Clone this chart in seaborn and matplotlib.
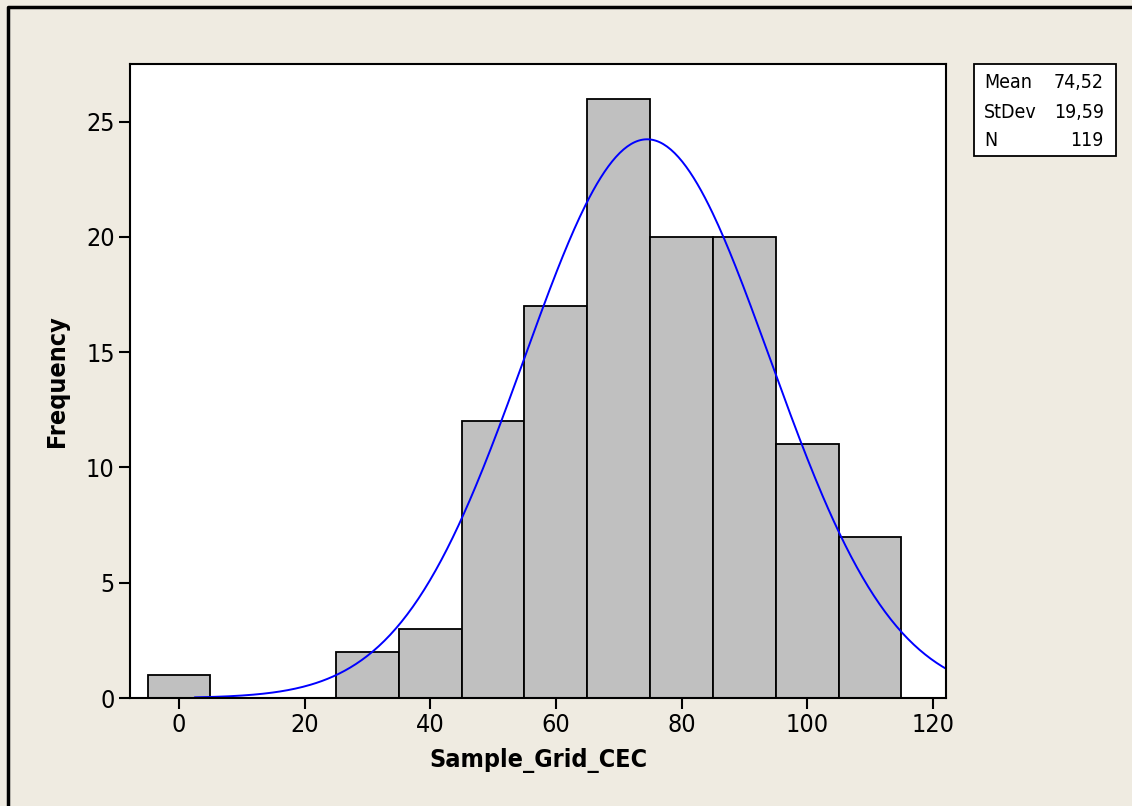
import numpy as np
import pandas as pd
import matplotlib
matplotlib.use("Agg")
import matplotlib.pyplot as plt
import seaborn as sns

# Data
bin_centers = [0, 10, 20, 30, 40, 50, 60, 70, 80, 90, 100, 110]
counts = [1, 0, 0, 2, 3, 12, 17, 26, 20, 20, 11, 7]
mean_val = 74.52
std_val = 19.59
n_val = 119
x_ticks = [0, 20, 40, 60, 80, 100, 120]
y_ticks = [0, 5, 10, 15, 20, 25]

bg = "#EFEBE1"
sns.set_theme(style="white")
plt.rcParams['font.family'] = ['DejaVu Sans']
plt.rcParams['font.stretch'] = 'condensed'

fig = plt.figure(figsize=(11.32, 8.06), dpi=100, facecolor=bg)
ax = fig.add_axes([130/1132, 1-698/806, (946-130)/1132, (698-64)/806])
ax.set_facecolor("white")

df = pd.DataFrame({"Sample_Grid_CEC": bin_centers, "count": counts})
edges = [float(e) for e in range(-5, 116, 10)]
sns.histplot(data=df, x="Sample_Grid_CEC", weights="count", bins=edges,
             color="#C0C0C0", edgecolor="black", linewidth=1.3, alpha=1, ax=ax)

xs = np.linspace(2.5, 123, 400)
pdf = n_val * 10 / (std_val * np.sqrt(2 * np.pi)) * np.exp(-0.5 * ((xs - mean_val) / std_val) ** 2)
sns.lineplot(x=xs, y=pdf, color="#0000FF", linewidth=1.4, ax=ax)

ax.set_xlim(-7.8, 122.1)
ax.set_ylim(0, 27.5)
ax.set_xticks(x_ticks)
ax.set_yticks(y_ticks)
ax.tick_params(axis="both", which="both", direction="out", length=8, width=1.5,
               color="black", labelsize=18, labelcolor="black", bottom=True, left=True, pad=3)
for s in ax.spines.values():
    s.set_color("black")
    s.set_linewidth(1.5)
ax.set_xlabel("Sample_Grid_CEC", fontsize=18, fontweight="bold", color="black", labelpad=8)
ax.set_ylabel("Frequency", fontsize=18, fontweight="bold", color="black", labelpad=12)

# Stats box
box_l, box_r, box_t, box_b = 974/1132, 1116/1132, 1-64/806, 1-156/806
fig.patches.append(plt.Rectangle((box_l, box_b), box_r-box_l, box_t-box_b, transform=fig.transFigure,
                                 facecolor="white", edgecolor="black", linewidth=1.3))
labels = ["Mean", "StDev", "N"]
values = [f"{mean_val:.2f}".replace(".", ","), f"{std_val:.2f}".replace(".", ","), str(n_val)]
ys = [83, 112, 140]
for lab, val, yy in zip(labels, values, ys):
    fig.text(984/1132, 1-yy/806, lab, ha="left", va="center", fontsize=14, color="black")
    fig.text(1104/1132, 1-yy/806, val, ha="right", va="center", fontsize=14, color="black")

# Outer border (top and left visible)
fig.add_artist(plt.Line2D([8/1132, 8/1132, 1.01], [-0.01, 1-7/806, 1-7/806], transform=fig.transFigure,
                          color="black", linewidth=2.5))

fig.savefig("out.png", dpi=100, facecolor=bg)
